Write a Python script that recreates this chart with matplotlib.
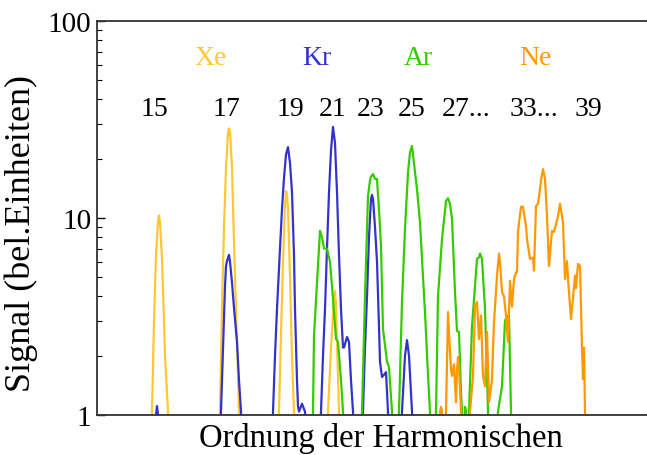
import matplotlib.pyplot as plt
from matplotlib.ticker import FixedLocator, LogLocator, NullFormatter

# Spectra of the noble gases (arbitrary position along the spectrometer, signal in arb. units)
# values of 0.5 lie below the plotted range and simply drop to the axis
xe_x = [53, 55, 57, 59, 61, 62, 63, 65, 67, 68, 70, 71, 73,
        121, 123, 125, 127, 129, 131, 132, 133, 135, 137, 139, 141, 142, 144,
        180, 182, 184, 186, 188, 189, 190, 191, 193, 195, 197, 199,
        229, 231, 234, 237, 238, 239, 240, 242, 244]
xe_y = [0.5, 1.04, 3.0, 6.5, 9.6, 10.3, 9.5, 6.2, 3.0, 2.0, 1.3, 1.04, 0.5,
        0.5, 1.04, 3.5, 9.0, 18.0, 27.0, 28.5, 27.5, 18.0, 7.55, 3.45, 1.6, 1.04, 0.5,
        0.5, 1.04, 2.6, 6.0, 11.5, 13.7, 13.2, 11.1, 5.1, 1.92, 1.04, 0.5,
        0.5, 1.04, 2.16, 4.0, 4.26, 3.6, 2.35, 1.04, 0.5]

kr_x = [58, 59, 60, 61, 62,
        122, 124, 126, 128, 129, 130, 132, 133, 135, 137, 140, 142, 144, 146,
        174, 176, 178, 180, 183, 185, 187, 189, 191, 193, 195, 197, 198, 200,
        201, 202, 205, 208, 210,
        222, 224, 226, 228, 230, 232, 234, 236, 238, 240, 242, 244, 246, 247,
        250, 252, 254, 256, 258,
        264, 266, 268, 270, 272, 274, 275, 276, 278, 280, 282, 283, 285, 287,
        289, 291, 293,
        303, 305, 308, 310, 312, 315, 317]
kr_y = [0.5, 1.0, 1.11, 1.0, 0.5,
        0.5, 1.04, 2.16, 4.5, 5.7, 6.05, 6.5, 6.0, 4.7, 3.5, 2.35, 1.5, 1.04, 0.5,
        0.5, 1.04, 2.0, 3.45, 7.0, 11.1, 16.0, 21.0, 22.9, 19.0, 13.5, 6.5, 3.45, 1.5,
        1.11, 1.04, 1.14, 1.04, 0.5,
        0.5, 1.04, 2.0, 3.45, 7.0, 13.5, 22.0, 29.0, 24.0, 13.5, 6.5, 3.45, 2.2, 2.2,
        2.49, 2.35, 1.5, 1.04, 0.5,
        0.5, 1.04, 2.2, 4.0, 8.0, 12.5, 13.1, 12.5, 9.0, 6.0, 2.8, 1.86, 1.56, 1.6,
        1.65, 1.04, 0.5,
        0.5, 1.04, 2.0, 2.4, 2.0, 1.04, 0.5]

ar_x = [214, 216, 217, 220, 223, 225, 227, 230, 233, 236, 239, 241, 244, 246, 248,
        263, 265, 268, 271, 273, 274, 276, 278, 280, 282, 284, 286, 290, 292, 295, 297,
        300, 302, 305, 308, 311, 313, 315, 317, 318, 320, 323, 326, 328, 331, 333, 335,
        337, 339, 341, 345, 349, 351, 353, 355, 358, 360, 362, 364, 365, 367,
        367, 368, 369, 370,
        370, 372, 375, 378, 380, 382, 383, 385, 388, 390, 391, 393,
        399, 401, 405, 408, 410, 411, 412, 414, 416]
ar_y = [0.5, 1.04, 2.52, 4.7, 8.6, 8.0, 7.0, 7.0, 6.0, 3.9, 2.43, 2.35, 1.5, 1.04, 0.5,
        0.5, 1.04, 4.0, 12.9, 15.5, 16.2, 16.7, 15.8, 15.8, 11.0, 7.2, 2.73, 1.86, 1.75, 1.04, 0.5,
        0.5, 1.04, 3.75, 8.8, 17.1, 21.5, 23.2, 19.0, 17.1, 14.0, 9.5, 5.0, 3.33, 1.6, 1.04, 0.5,
        0.5, 1.04, 4.0, 7.8, 12.2, 12.6, 11.8, 9.9, 4.2, 2.67, 2.64, 1.3, 1.04, 0.5,
        0.5, 1.1, 1.04, 0.5,
        0.5, 1.04, 2.83, 4.5, 6.2, 6.3, 6.6, 6.2, 3.45, 1.6, 1.04, 0.5,
        0.5, 1.04, 1.4, 3.0, 3.2, 3.1, 3.2, 1.04, 0.5]

ne_x = [342, 343, 344, 345, 346,
        347, 349, 351, 353, 354, 355, 357, 359, 360, 361, 362, 364, 365,
        372, 373, 376, 378, 380, 382, 384, 386, 388, 390, 392, 395, 397,
        400, 402, 403, 405, 407, 409, 411, 413, 415, 417, 419, 420, 421,
        424, 426, 429, 430, 433, 436, 437, 439, 441, 443, 444, 446, 448, 450,
        452, 455, 457, 459, 461, 463, 466, 468, 470, 471, 474, 476, 478,
        479, 481, 483, 485, 486, 487, 488, 489, 490]
ne_y = [0.5, 1.04, 1.1, 1.04, 0.5,
        0.5, 1.04, 3.33, 2.09, 1.7, 1.58, 1.81, 1.16, 1.7, 1.97, 1.75, 1.04, 0.5,
        0.5, 1.04, 1.58, 3.6, 3.75, 2.43, 3.2, 1.58, 1.40, 2.64, 1.16, 1.52, 2.96,
        5.1, 6.6, 6.0, 4.2, 4.0, 3.2, 2.35, 4.8, 3.55, 4.9, 5.3, 5.3, 8.5,
        11.4, 11.4, 9.1, 7.8, 6.2, 6.3, 5.4, 11.5, 11.8, 14.0, 15.5, 17.7, 15.8, 10.2,
        5.7, 8.6, 8.5, 9.3, 10.2, 11.8, 9.5, 4.9, 6.05, 4.9, 3.07, 3.9, 5.1,
        4.4, 5.85, 5.7, 2.2, 1.52, 2.2, 1.04, 0.5, 0.5]

# harmonic orders written above the peaks
order_labels = ['15', '17', '19', '21', '23', '25', '27...', '33...', '39']
order_pos = [57, 129, 193, 236, 274, 315, 369, 437, 491]
gas_labels = ['Xe', 'Kr', 'Ar', 'Ne']
gas_pos = [114, 220, 321, 438]

c_xe = '#FFC832'
c_kr = '#3333CC'
c_ar = '#33CC00'
c_ne = '#FF9900'
gas_colors = [c_xe, c_kr, c_ar, c_ne]

plt.rcParams['font.family'] = ['Liberation Serif', 'DejaVu Serif']

fig = plt.figure(figsize=(6.47, 4.56), dpi=100)
ax = fig.add_axes([97 / 647, 40 / 456, 550 / 647, 394 / 456])

for xs, ys, col in [(xe_x, xe_y, c_xe), (kr_x, kr_y, c_kr),
                    (ar_x, ar_y, c_ar), (ne_x, ne_y, c_ne)]:
    ax.plot(xs, ys, color=col, lw=1.6, solid_joinstyle='round')

ax.set_yscale('log')
ax.set_ylim(1, 100)
ax.set_xlim(0, 550)

for lab, pos in zip(order_labels, order_pos):
    ax.text(pos, 36, lab, ha='center', va='center', fontsize=20)
for lab, pos, col in zip(gas_labels, gas_pos, gas_colors):
    ax.text(pos, 65, lab, ha='center', va='center', fontsize=20, color=col)

# axes frame: left, bottom and top only
ax.spines['right'].set_visible(False)
for s in ['left', 'bottom', 'top']:
    ax.spines[s].set_linewidth(1.3)
    ax.spines[s].set_color('#333333')

ax.yaxis.set_major_locator(FixedLocator([1, 10, 100]))
ax.set_yticklabels(['1', '10', '100'])
ax.yaxis.set_minor_locator(LogLocator(base=10, subs=range(2, 10)))
ax.yaxis.set_minor_formatter(NullFormatter())
ax.tick_params(axis='y', which='major', direction='in', length=6, width=1, labelsize=21, pad=4)
ax.tick_params(axis='y', which='minor', direction='in', length=3.5, width=0.8)
ax.set_xticks([])

ax.set_xlabel('Ordnung der Harmonischen', fontsize=23.5, va='top')
ax.xaxis.set_label_coords(0.517, -0.018)
ax.set_ylabel('Signal (bel.Einheiten)', fontsize=26, va='center')
ax.yaxis.set_label_coords(-0.138, 0.464)

plt.savefig('out.png', dpi=100)
